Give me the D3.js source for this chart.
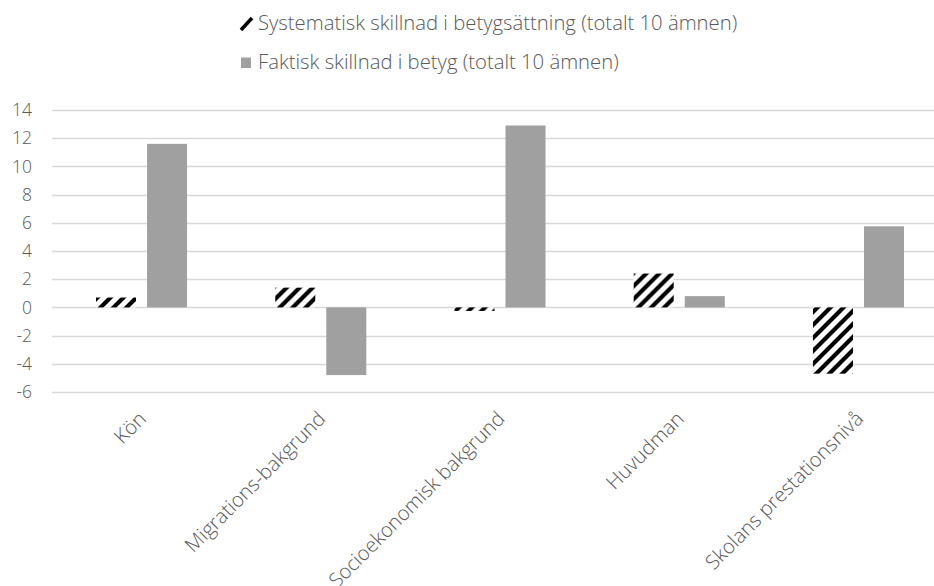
<!DOCTYPE html>
<html>

<head>
    <meta charset="utf-8">
    <script type="text/javascript" src="https://cdnjs.cloudflare.com/ajax/libs/d3/7.8.5/d3.min.js"></script>
    <style>
        body {
            margin: 0;
            background: white;
        }

        svg text {
            font-family: "Open Sans", Lato, sans-serif;
            font-weight: 300;
            fill: #595959;
        }

    </style>
</head>

<body>
    <script>
        var categories = ['Kön', 'Migrations-bakgrund', 'Socioekonomisk bakgrund', 'Huvudman', 'Skolans prestationsnivå'];
        var seriesNames = ['Systematisk skillnad i betygsättning (totalt 10 ämnen)', 'Faktisk skillnad i betyg (totalt 10 ämnen)'];
        var systematisk = [0.7, 1.4, -0.25, 2.4, -4.7];
        var faktisk = [11.6, -4.8, 12.9, 0.8, 5.75];
        var yTicks = [-6, -4, -2, 0, 2, 4, 6, 8, 10, 12, 14];

        var width = 934,
            height = 586;

        var svg = d3.select('body')
            .append('svg')
            .attr('width', width)
            .attr('height', height);

        // hatch pattern for the first series
        var pat = svg.append('defs').append('pattern')
            .attr('id', 'hatch')
            .attr('patternUnits', 'userSpaceOnUse')
            .attr('width', 13)
            .attr('height', 13);
        pat.append('rect').attr('width', 13).attr('height', 13).attr('fill', 'white');
        pat.append('path')
            .attr('d', 'M-3,16 L16,-3 M-3,3 L3,-3 M10,16 L16,10')
            .attr('stroke', 'black')
            .attr('stroke-width', 4.2);

        var x0 = d3.scaleBand()
            .domain(categories)
            .range([52, 948])
            .paddingInner(0.492)
            .paddingOuter(0.2455);

        var x1 = d3.scaleBand()
            .domain([0, 1])
            .range([0, x0.bandwidth()])
            .paddingInner(0.216);

        var y = d3.scaleLinear()
            .domain([-6, 14])
            .range([392, 110]);

        // gridlines
        svg.append('g')
            .selectAll('line')
            .data(yTicks)
            .enter()
            .append('line')
            .attr('x1', 52)
            .attr('x2', width)
            .attr('y1', function(d) { return Math.round(y(d)) + 0.5; })
            .attr('y2', function(d) { return Math.round(y(d)) + 0.5; })
            .attr('stroke', '#d9d9d9')
            .attr('stroke-width', 1.3);

        // y tick labels
        svg.append('g')
            .selectAll('text')
            .data(yTicks)
            .enter()
            .append('text')
            .attr('x', 32)
            .attr('y', function(d) { return y(d); })
            .attr('dy', '0.35em')
            .attr('text-anchor', 'end')
            .style('font-size', '17.5px')
            .text(function(d) { return d; });

        var groups = svg.append('g')
            .selectAll('g')
            .data(categories)
            .enter()
            .append('g')
            .attr('transform', function(d) {
                return 'translate(' + x0(d) + ',0)';
            });

        groups.append('rect')
            .attr('x', x1(0))
            .attr('width', x1.bandwidth())
            .attr('y', function(d, i) { return y(Math.max(0, systematisk[i])); })
            .attr('height', function(d, i) { return Math.abs(y(systematisk[i]) - y(0)); })
            .attr('fill', 'url(#hatch)');

        groups.append('rect')
            .attr('x', x1(1))
            .attr('width', x1.bandwidth())
            .attr('y', function(d, i) { return y(Math.max(0, faktisk[i])); })
            .attr('height', function(d, i) { return Math.abs(y(faktisk[i]) - y(0)); })
            .attr('fill', '#a0a0a0');

        // category labels
        svg.append('g')
            .selectAll('text')
            .data(categories)
            .enter()
            .append('text')
            .attr('transform', function(d) {
                var cx = x0(d) + x0.bandwidth() / 2 + 6;
                return 'translate(' + cx + ',420) rotate(-45)';
            })
            .attr('text-anchor', 'end')
            .style('font-size', '20.2px')
            .text(function(d) { return d; });

        // legend
        var legend = svg.append('g');
        legend.append('path')
            .attr('d', 'M241,30 L252,18')
            .attr('stroke', 'black')
            .attr('stroke-width', 3.5);
        legend.append('rect')
            .attr('x', 241)
            .attr('y', 57.5)
            .attr('width', 10)
            .attr('height', 10.5)
            .attr('fill', '#a0a0a0');
        legend.selectAll('text')
            .data(seriesNames)
            .enter()
            .append('text')
            .attr('x', 258)
            .attr('y', function(d, i) { return 30 + i * 39; })
            .style('font-size', '20.3px')
            .text(function(d) { return d; });

    </script>
</body>

</html>
